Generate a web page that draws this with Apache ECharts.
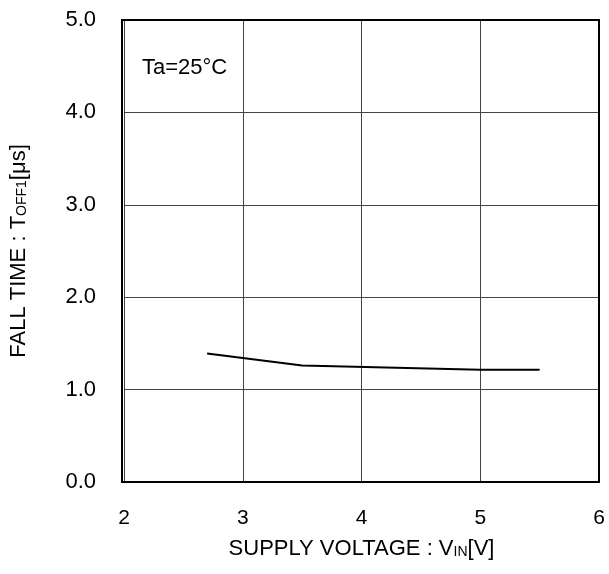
<!DOCTYPE html>
<html>
<head>
<meta charset="utf-8">
<script src="https://cdn.jsdelivr.net/npm/echarts@6/dist/echarts.min.js"></script>
<style>
  html, body { margin: 0; padding: 0; background: #fff; }
  #chart { width: 609px; height: 574px; }
</style>
</head>
<body>
<div id="chart"></div>
<script>
  // supply voltage [V] vs fall time [us]
  var vin = [2.7, 3.5, 5.0, 5.5];
  var toff = [1.39, 1.26, 1.215, 1.215];
  var xTicks = [2, 3, 4, 5, 6];
  var yTicks = [0, 1, 2, 3, 4, 5];

  var myChart = echarts.init(document.getElementById('chart'));
  var font = 'Liberation Sans, Arial, sans-serif';

  var option = {
    animation: false,
    grid: { left: 122, right: 10, top: 20, bottom: 92 },
    xAxis: {
      type: 'value',
      min: xTicks[0],
      max: xTicks[xTicks.length - 1],
      interval: 1,
      axisLine: { show: false },
      axisTick: { show: false },
      splitLine: { lineStyle: { color: '#444', width: 1 } },
      axisLabel: { margin: 26, color: '#000', fontSize: 21, fontFamily: font },
      name: '{a|SUPPLY VOLTAGE : V}{b|IN}{a|[V]}',
      nameLocation: 'middle',
      nameGap: 56,
      nameTextStyle: {
        rich: {
          a: { fontSize: 22, color: '#000', fontFamily: font },
          b: { fontSize: 14, color: '#000', fontFamily: font, padding: [6, 0, 0, 0] }
        }
      }
    },
    yAxis: {
      type: 'value',
      min: yTicks[0],
      max: yTicks[yTicks.length - 1],
      interval: 1,
      axisLine: { show: false },
      axisTick: { show: false },
      splitLine: { lineStyle: { color: '#444', width: 1 } },
      axisLabel: {
        margin: 28, color: '#000', fontSize: 22, fontFamily: font,
        formatter: function (v) { return v.toFixed(1); }
      },
      name: '{a|FALL TIME : T}{b|OFF1}{a|[μs]}',
      nameLocation: 'middle',
      nameGap: 94,
      nameTextStyle: {
        rich: {
          a: { fontSize: 22, color: '#000', fontFamily: font },
          b: { fontSize: 14, color: '#000', fontFamily: font, padding: [6, 0, 0, 0] }
        }
      }
    },
    graphic: [
      {
        type: 'rect',
        shape: { x: 122, y: 20, width: 477, height: 462 },
        style: { fill: 'none', stroke: '#000', lineWidth: 2 },
        z: 10
      },
      {
        type: 'text',
        left: 142, top: 57,
        style: { text: 'Ta=25°C', fontSize: 22, fill: '#000', fontFamily: font }
      }
    ],
    series: [{
      type: 'line',
      data: vin.map(function (v, i) { return [v, toff[i]]; }),
      symbol: 'none',
      lineStyle: { color: '#000', width: 2 },
      z: 5
    }]
  };
  myChart.setOption(option);
</script>
</body>
</html>
